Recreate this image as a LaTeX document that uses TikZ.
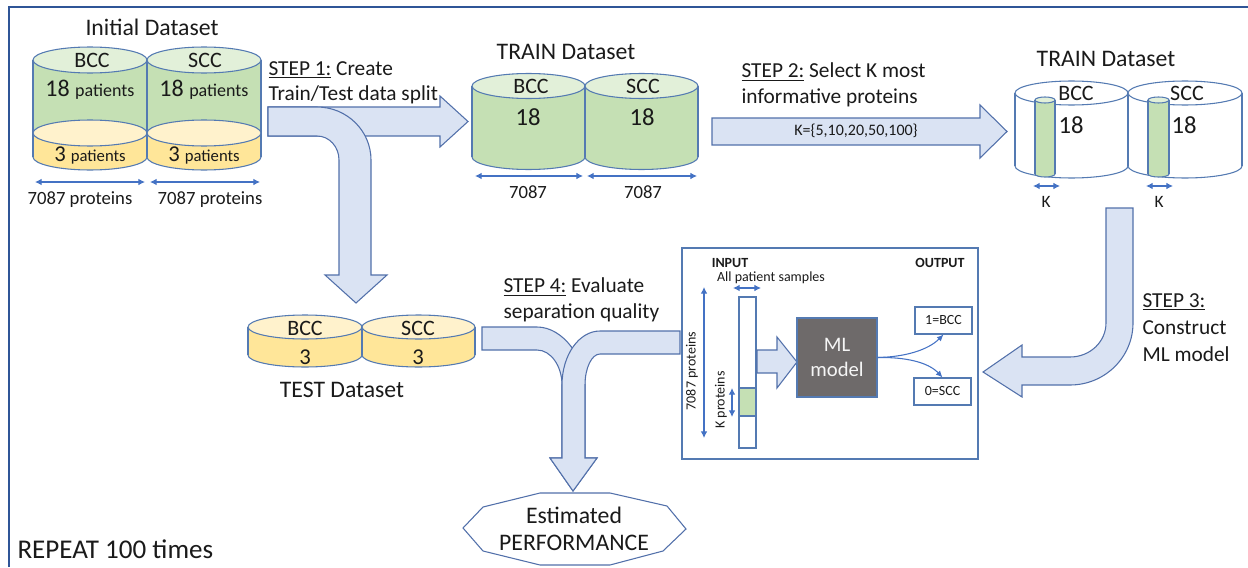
\documentclass[tikz,border=0pt]{standalone}
\usepackage{fontspec}
\setmainfont{Carlito}
\usetikzlibrary{arrows.meta}
\definecolor{cylline}{RGB}{84,122,178}
\definecolor{gbody}{HTML}{C5E0B4}
\definecolor{gtop}{HTML}{E2F0D9}
\definecolor{ybody}{HTML}{FFE699}
\definecolor{ytop}{HTML}{FFF2CC}
\definecolor{afill}{HTML}{DAE3F3}
\definecolor{aline}{RGB}{82,112,170}
\definecolor{dimc}{HTML}{4472C4}
\definecolor{framec}{HTML}{2F5597}
\definecolor{mlgray}{HTML}{6E6A6A}
\definecolor{txt}{HTML}{1A1A1A}
\newcommand\cylinder[7]{%
 \pgfmathsetmacro\cylcx{(#1+#2)/2}\pgfmathsetmacro\cylrx{(#2-#1)/2}%
 \fill[#6] (#1,#3) rectangle (#2,#4);
 \fill[#6] (\cylcx,#4) ellipse [x radius=\cylrx, y radius=#5];
 \begin{scope}\clip (#1-3,#4) rectangle (#2+3,#4+#5+3);
 \draw[cylline] (\cylcx,#4) ellipse [x radius=\cylrx, y radius=#5];\end{scope}
 \draw[cylline] (#1,#3)--(#1,#4) (#2,#3)--(#2,#4);
 \filldraw[draw=cylline, fill=#7] (\cylcx,#3) ellipse [x radius=\cylrx, y radius=#5];
}
\begin{document}
\begin{tikzpicture}[x=0.75pt,y=-0.75pt,line width=0.8pt,
 every node/.style={inner sep=0pt, text=txt},
 ftitle/.style={font=\fontsize{17.8}{21}\selectfont},
 fstep/.style={font=\fontsize{16}{19}\selectfont},
 fcls/.style={font=\fontsize{16.5}{19}\selectfont},
 flab/.style={font=\fontsize{14}{17}\selectfont},
 fsmall/.style={font=\fontsize{12}{14}\selectfont},
 ftiny/.style={font=\fontsize{10.5}{12.5}\selectfont},
 bigarrow/.style={fill=afill, draw=aline, line width=0.8pt, line join=miter},
 dimarrow/.style={draw=dimc, line width=0.8pt, {Latex[length=5pt,width=5pt]}-{Latex[length=5pt,width=5pt]}},
 outarrow/.style={draw=dimc, line width=0.8pt, -{Latex[length=5pt,width=4.5pt]}},
 boxed/.style={draw=cylline, fill=white, line width=0.8pt}]
\useasboundingbox (0,0) rectangle (1248,567);
% frame
\draw[framec, line width=1.1pt] (9,567) -- (9,7) -- (1248,7);

% ---------- Initial dataset
\cylinder{33}{147}{60}{133}{13}{gbody}{gtop}
\cylinder{33}{147}{133}{157}{13}{ybody}{ytop}
\cylinder{147}{261}{60}{133}{13}{gbody}{gtop}
\cylinder{147}{261}{133}{157}{13}{ybody}{ytop}
\node[ftitle] (initt) at (152,27) {Initial Dataset};
\node[fcls] (ib) at (92,60) {BCC};
\node[fcls] (is) at (205,60) {SCC};
\node (ib18) at (90,90) {\fontsize{18}{20}\selectfont 18 \fontsize{13.5}{15}\selectfont patients};
\node (is18) at (204,90) {\fontsize{18}{20}\selectfont 18 \fontsize{13.5}{15}\selectfont patients};
\node (ib3) at (90,155) {\fontsize{17}{20}\selectfont 3 \fontsize{12.5}{15}\selectfont patients};
\node (is3) at (204,155) {\fontsize{17}{20}\selectfont 3 \fontsize{12.5}{15}\selectfont patients};
\coordinate (d1a) at (35,182); \coordinate (d1b) at (145,182);
\coordinate (d2a) at (150,182); \coordinate (d2b) at (260,182);
\draw[dimarrow] (d1a) -- (d1b);
\draw[dimarrow] (d2a) -- (d2b);
\node[flab] (ip1) at (80,200) {7087 proteins};
\node[flab] (ip2) at (210,200) {7087 proteins};

% ---------- Step 1 arrows
\draw[bigarrow] (268,107) -- (440,107) -- (440,96) -- (468,121.5) -- (440,147) -- (440,136) -- (268,136) -- cycle;
\draw[bigarrow] (268,107) -- (317,107) .. controls (346.8,107) and (371,130.7) .. (371,160)
 -- (371,275) -- (387,275) -- (356,303) -- (325,275) -- (339,275) -- (339,160)
 .. controls (339,146.7) and (329.2,136) .. (317,136) -- (268,136) -- cycle;
\node[fstep, anchor=west] (s1a) at (268,70) {\underline{STEP 1:} Create};
\node[fstep, anchor=west] (s1b) at (268,95) {Train/Test data split};

% ---------- TRAIN dataset (middle)
\cylinder{472}{585}{86}{157}{12.5}{gbody}{gtop}
\cylinder{585}{698}{86}{157}{12.5}{gbody}{gtop}
\node[ftitle] (trt) at (566,52) {TRAIN Dataset};
\node[fcls] (tb) at (531,86) {BCC};
\node[fcls] (ts) at (643,86) {SCC};
\node[font=\fontsize{18.5}{20}\selectfont] (tb18) at (528,117) {18};
\node[font=\fontsize{18.5}{20}\selectfont] (ts18) at (642,117) {18};
\coordinate (d3a) at (475,176); \coordinate (d3b) at (583,176);
\coordinate (d4a) at (587,176); \coordinate (d4b) at (697,176);
\draw[dimarrow] (d3a) -- (d3b);
\draw[dimarrow] (d4a) -- (d4b);
\node[flab] (tp1) at (528,192) {7087};
\node[flab] (tp2) at (643,192) {7087};

% ---------- Step 2
\draw[bigarrow] (712,118) -- (980,118) -- (980,105) -- (1007,131.5) -- (980,158) -- (980,145) -- (712,145) -- cycle;
\node[fsmall] (kset) at (856,131) {K=\{5,10,20,50,100\}};
\node[fstep, anchor=west] (s2a) at (741,72) {\underline{STEP 2:} Select K most};
\node[fstep, anchor=west] (s2b) at (741,98) {informative proteins};

% ---------- TRAIN dataset (right)
\cylinder{1015}{1128}{93}{166}{12}{white}{white}
\cylinder{1128}{1242}{93}{166}{12}{white}{white}
\cylinder{1035}{1055}{100}{174}{3}{gbody}{gtop}
\cylinder{1148}{1169}{100}{174}{3}{gbody}{gtop}
\node[ftitle] (rtt) at (1106,59) {TRAIN Dataset};
\node[fcls] (rb) at (1076,93) {BCC};
\node[fcls] (rs) at (1187,93) {SCC};
\node[font=\fontsize{18.5}{20}\selectfont] (rb18) at (1071,125) {18};
\node[font=\fontsize{18.5}{20}\selectfont] (rs18) at (1184,125) {18};
\coordinate (d5a) at (1033,186); \coordinate (d5b) at (1060,186);
\coordinate (d6a) at (1146,186); \coordinate (d6b) at (1173,186);
\draw[dimarrow] (d5a) -- (d5b);
\draw[dimarrow] (d6a) -- (d6b);
\node[font=\fontsize{13}{15}\selectfont] (rk1) at (1046,202) {K};
\node[font=\fontsize{13}{15}\selectfont] (rk2) at (1159,202) {K};

% ---------- Step 3
\draw[bigarrow] (1106,208) -- (1133,208) -- (1133,323) .. controls (1133,357.2) and (1104.8,385) .. (1070,385)
 -- (1022,385) -- (1022,397) -- (983,372) -- (1022,345) -- (1022,357) -- (1070,357)
 .. controls (1089.9,357) and (1106,341.8) .. (1106,323) -- cycle;
\node[fstep, anchor=west] (s3a) at (1142,302) {\underline{STEP 3:}};
\node[fstep, anchor=west] (s3b) at (1142,328) {Construct};
\node[fstep, anchor=west] (s3c) at (1142,354) {ML model};

% ---------- ML frame
\node[draw=cylline, line width=0.9pt, minimum width=222pt, minimum height=158.25pt] (mlframe) at (830,353.5) {};
\node[font=\fontsize{10.5}{12.5}\selectfont\bfseries] (inp) at (730,263) {INPUT};
\node[font=\fontsize{10.5}{12.5}\selectfont\bfseries] (outp) at (940,263) {OUTPUT};
\node[ftiny] (aps) at (771,278) {All patient samples};
\node[boxed, minimum width=12.75pt, minimum height=113.25pt] (col) at (747.5,372.5) {};
\node[draw=cylline, fill=gbody, minimum width=12.75pt, minimum height=21pt] (colk) at (747.5,402) {};
\coordinate (d7a) at (733,288); \coordinate (d7b) at (761,288);
\draw[dimarrow] (d7a) -- (d7b);
\coordinate (d8a) at (704,287); \coordinate (d8b) at (704,438);
\draw[dimarrow] (d8a) -- (d8b);
\coordinate (d9a) at (732,388); \coordinate (d9b) at (732,417);
\draw[dimarrow] (d9a) -- (d9b);
\node[ftiny, rotate=90] (p7087) at (692,371) {7087 proteins};
\node[ftiny, rotate=90] (pk) at (721,400) {K proteins};
\draw[bigarrow] (757,350) -- (777,350) -- (777,337) -- (797,362) -- (777,388) -- (777,373) -- (757,373) -- cycle;
\node[draw=cylline, fill=mlgray, minimum width=60pt, minimum height=59.25pt, align=center,
 text=white!92!gray, font=\fontsize{15.5}{19}\selectfont] (ml) at (837,357.5) {ML\\model};
\node[boxed, ftiny, minimum width=42.75pt, minimum height=20.25pt] (o1) at (943.5,320.5) {1=BCC};
\node[boxed, ftiny, minimum width=42.75pt, minimum height=20.25pt] (o2) at (942.5,391.5) {0=SCC};
\draw[outarrow] (ml.east) .. controls (905,357) and (928,350) .. (o1.south);
\draw[outarrow] (ml.east) .. controls (905,357) and (928,362) .. (o2.north);

% ---------- TEST dataset
\cylinder{248}{362}{327}{355}{12}{ybody}{ytop}
\cylinder{362}{475}{327}{355}{12}{ybody}{ytop}
\node[fcls] (eb) at (305,328) {BCC};
\node[fcls] (es) at (418,328) {SCC};
\node[font=\fontsize{17}{20}\selectfont] (eb3) at (305,357) {3};
\node[font=\fontsize{17}{20}\selectfont] (es3) at (418,357) {3};
\node[ftitle] (tet) at (342,390) {TEST Dataset};

% ---------- Step 4
\draw[bigarrow] (482,327) -- (537,327) .. controls (563.5,327) and (585,359) .. (585,385)
 -- (585,458) -- (597,458) -- (573,491) -- (550,458) -- (562,458) -- (562,385)
 .. controls (562,366) and (550.8,350) .. (537,350) -- (482,350) -- cycle;
\draw[bigarrow] (680,331) -- (600,331) .. controls (579,331) and (562,355) .. (562,385)
 -- (562,458) -- (550,458) -- (573,491) -- (597,458) -- (585,458) -- (585,385)
 .. controls (585,368) and (591.7,354) .. (600,354) -- (680,354) -- cycle;
\node[fstep, anchor=west] (s4a) at (503,287) {\underline{STEP 4:} Evaluate};
\node[fstep, anchor=west] (s4b) at (503,313) {separation quality};

% ---------- Performance
\draw[draw=aline, fill=white, line width=0.8pt] (463,528) -- (483,507) -- (540,493) -- (610,493) -- (667,506) -- (686,529) -- (663,551) -- (610,565) -- (540,565) -- (483,551) -- cycle;
\node[ftitle] (pe1) at (574,515) {Estimated};
\node[ftitle] (pe2) at (574,543) {PERFORMANCE};

\node[font=\fontsize{20.3}{23}\selectfont, anchor=west] (rep) at (17,549) {REPEAT 100 times};
\end{tikzpicture}
\end{document}
